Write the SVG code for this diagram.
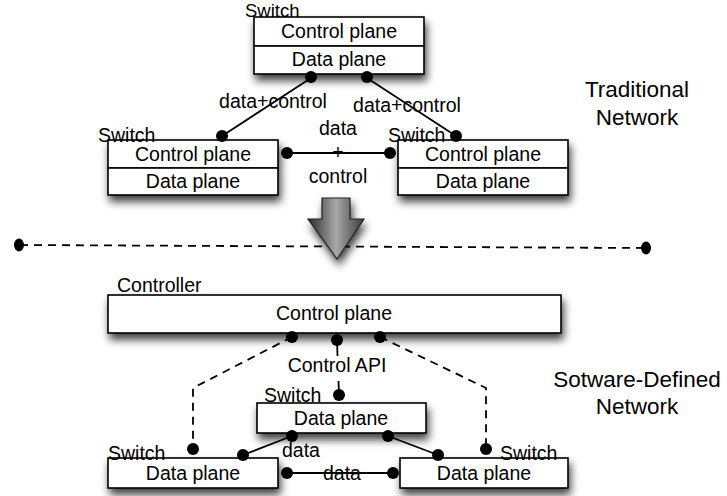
<svg xmlns="http://www.w3.org/2000/svg" width="727" height="496" viewBox="0 0 727 496">
<defs>
<filter id="sh" x="-20%" y="-30%" width="140%" height="190%">
<feGaussianBlur in="SourceAlpha" stdDeviation="4"/>
<feOffset dx="2" dy="6" result="b"/>
<feComponentTransfer><feFuncA type="linear" slope="0.75"/></feComponentTransfer>
<feMerge><feMergeNode/><feMergeNode in="SourceGraphic"/></feMerge>
</filter>
<linearGradient id="ag" x1="0" y1="0" x2="1" y2="0">
<stop offset="0" stop-color="#2a2a2a"/>
<stop offset="0.5" stop-color="#a8a8a8"/>
<stop offset="1" stop-color="#3a3a3a"/>
</linearGradient>
</defs>
<style>
.box{fill:#fff;stroke:#000;stroke-width:1.6}
.t{font-family:"Liberation Sans",Arial,sans-serif;font-size:19.5px;fill:#000}
.c{text-anchor:middle}
.big{font-family:"Liberation Sans",Arial,sans-serif;font-size:22.5px;fill:#000;text-anchor:middle}
.ln{stroke:#000;stroke-width:1.8;fill:none}
.ds{stroke:#000;stroke-width:1.8;fill:none;stroke-dasharray:8,6}
.dot{fill:#000}
</style>

<g id="connectors">
<line class="ln" x1="222" y1="136" x2="311" y2="78"/>
<line class="ln" x1="367" y1="78" x2="456" y2="136"/>
<line class="ln" x1="287" y1="153" x2="390" y2="153"/>
<line class="ds" x1="20" y1="245" x2="645" y2="248"/>
<polyline class="ds" points="292,337 193,388 193,449"/>
<polyline class="ds" points="380,337 486,388 486,449"/>
<line class="ln" x1="337" y1="340" x2="337.5" y2="356"/>
<line class="ln" x1="338.5" y1="381" x2="339" y2="395"/>
<line class="ln" x1="243" y1="455" x2="292" y2="436"/>
<line class="ln" x1="388" y1="436" x2="438" y2="455"/>
<line class="ln" x1="287" y1="473" x2="393" y2="473"/>
</g>

<g id="switch-top">
<g filter="url(#sh)">
<rect class="box" x="254" y="17" width="170" height="29"/>
<rect class="box" x="254" y="46" width="170" height="28"/>
</g>
<text class="t" x="245" y="17" style="font-size:18.5px">Switch</text>
<text class="t c" x="339" y="38">Control plane</text>
<text class="t c" x="339" y="66">Data plane</text>
</g>

<g id="switch-left">
<g filter="url(#sh)">
<rect class="box" x="108" y="140" width="170" height="28"/>
<rect class="box" x="108" y="168" width="170" height="27"/>
</g>
<text class="t" x="98" y="142">Switch</text>
<text class="t c" x="193" y="161">Control plane</text>
<text class="t c" x="193" y="188">Data plane</text>
</g>

<g id="switch-right">
<g filter="url(#sh)">
<rect class="box" x="398" y="140" width="170" height="28"/>
<rect class="box" x="398" y="168" width="170" height="27"/>
</g>
<text class="t" x="388" y="142">Switch</text>
<text class="t c" x="483" y="161">Control plane</text>
<text class="t c" x="483" y="188">Data plane</text>
</g>

<g id="labels-top">
<text class="t c" x="273" y="108">data+control</text>
<text class="t c" x="407" y="112">data+control</text>
<text class="t c" x="338" y="135">data</text>
<text class="t c" x="338" y="159">+</text>
<text class="t c" x="338" y="183">control</text>
<text class="big" x="637" y="97">Traditional</text>
<text class="big" x="637" y="125">Network</text>
</g>

<g id="arrow">
<polygon points="322,198 350,198 350,219 364,219 337,259 308,219 322,219" fill="url(#ag)" stroke="#222" stroke-width="1.2" filter="url(#sh)"/>
</g>

<g id="controller">
<rect class="box" x="108" y="295" width="453" height="38" filter="url(#sh)"/>
<text class="t" x="117" y="292">Controller</text>
<text class="t c" x="334" y="320">Control plane</text>
</g>

<g id="switch-mid">
<rect class="box" x="257" y="403" width="169" height="30" filter="url(#sh)"/>
<text class="t" x="264" y="402">Switch</text>
<text class="t c" x="341" y="425">Data plane</text>
</g>

<g id="switch-bl">
<rect class="box" x="108" y="458" width="170" height="30" filter="url(#sh)"/>
<text class="t" x="108" y="460">Switch</text>
<text class="t c" x="193" y="480">Data plane</text>
</g>

<g id="switch-br">
<rect class="box" x="400" y="458" width="168" height="30" filter="url(#sh)"/>
<text class="t" x="500" y="460">Switch</text>
<text class="t c" x="484" y="480">Data plane</text>
</g>

<g id="labels-bottom">
<text class="t c" x="337" y="372">Control API</text>
<text class="t c" x="301" y="457">data</text>
<text class="t c" x="342" y="480">data</text>
<text class="big" x="637" y="387">Sotware-Defined</text>
<text class="big" x="637" y="414">Network</text>
</g>

<g id="dots">
<circle class="dot" cx="311" cy="77" r="6"/>
<circle class="dot" cx="367" cy="77" r="6"/>
<circle class="dot" cx="222" cy="136" r="6"/>
<circle class="dot" cx="456" cy="136" r="6"/>
<circle class="dot" cx="287" cy="153" r="6"/>
<circle class="dot" cx="390" cy="153" r="6"/>
<ellipse class="dot" cx="19" cy="245" rx="5" ry="6.5"/>
<ellipse class="dot" cx="646" cy="248" rx="5" ry="6.5"/>
<circle class="dot" cx="292" cy="337" r="6"/>
<circle class="dot" cx="337" cy="340" r="6"/>
<circle class="dot" cx="380" cy="337" r="6"/>
<circle class="dot" cx="339" cy="395" r="6"/>
<circle class="dot" cx="193" cy="449" r="6"/>
<circle class="dot" cx="486" cy="449" r="6"/>
<circle class="dot" cx="292" cy="436" r="6"/>
<circle class="dot" cx="388" cy="436" r="6"/>
<circle class="dot" cx="243" cy="455" r="6"/>
<circle class="dot" cx="438" cy="455" r="6"/>
<circle class="dot" cx="287" cy="473" r="6"/>
<circle class="dot" cx="393" cy="473" r="6"/>
</g>
</svg>
